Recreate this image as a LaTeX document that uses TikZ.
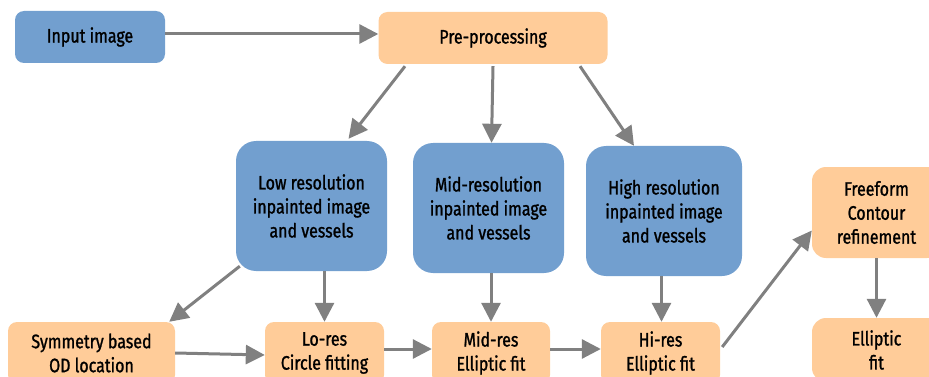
\documentclass[tikz,border=0pt]{standalone}
\usepackage{fontspec}
\setmainfont{Fira Sans}[FakeStretch=0.82,FakeBold=1.2]
\usetikzlibrary{arrows.meta,calc}
\definecolor{boxblue}{HTML}{729FCF}
\definecolor{boxorange}{HTML}{FFCC99}
\definecolor{arrgray}{HTML}{808080}
\begin{document}
\begin{tikzpicture}[x=1pt,y=-1pt,
  base/.style={rounded corners=9pt,inner sep=0pt,align=center,
    font=\fontsize{19.5}{24}\selectfont},
  bluebox/.style={base,fill=boxblue},
  orangebox/.style={base,fill=boxorange},
  bigblue/.style={bluebox,rounded corners=20pt,minimum width=151pt,minimum height=130pt},
  arr/.style={draw=arrgray,line width=3pt,-{Triangle[length=19pt,width=19pt]}}]
\useasboundingbox (0,0) rectangle (929,377);
\begin{scope}
\clip (0,0) rectangle (929,377);
\node[bluebox,minimum width=150pt,minimum height=52pt] (input) at (90,37) {Input image};
\node[orangebox,minimum width=229pt,minimum height=52pt] (pre) at (493,38) {Pre-processing};
\node[bigblue] (low) at (311.5,206) {Low resolution\\inpainted image\\and vessels};
\node[bigblue] (mid) at (488.5,208) {Mid-resolution\\inpainted image\\and vessels};
\node[bigblue,minimum width=156pt] (high) at (664,211) {High resolution\\inpainted image\\and vessels};
\node[orangebox,rounded corners=14pt,minimum width=129pt,minimum height=91pt] (free) at (876.5,212.5) {Freeform\\Contour\\refinement};
\node[orangebox,minimum width=167pt,minimum height=62pt] (sym) at (91.5,353) {Symmetry based\\OD location};
\node[orangebox,minimum width=119pt,minimum height=62pt] (lores) at (324.5,353) {Lo-res\\Circle fitting};
\node[orangebox,minimum width=118pt,minimum height=62pt] (midres) at (491,353) {Mid-res\\Elliptic fit};
\node[orangebox,minimum width=119pt,minimum height=62pt] (hires) at (660.5,353) {Hi-res\\Elliptic fit};
\node[orangebox,rounded corners=14pt,minimum width=129pt,minimum height=64pt] (ell) at (876.5,350) {Elliptic\\fit};
\end{scope}
\draw[arr] ($(input.east)+(0,-3)$) -- ($(pre.west)+(0,-4)$);
\draw[arr] ($(pre.south)+(-88,2)$) -- ($(low.north)+(37,-2)$);
\draw[arr] ($(pre.south)+(0,2)$) -- ($(mid.north)+(3,0)$);
\draw[arr] ($(pre.south)+(87,2)$) -- ($(high.north)+(-30,0)$);
\draw[arr] ($(low.south west)+(4,-5)$) -- ($(sym.north east)+(-6,0)$);
\draw[arr] (lores.north |- low.south) -- (lores.north);
\draw[arr] (midres.north |- mid.south) -- (midres.north);
\draw[arr] ($(hires.north |- high.south)+(1,0)$) -- ($(hires.north)+(1,0)$);
\draw[arr] (sym.east) -- ($(lores.west)+(0,2)$);
\draw[arr] ($(lores.east)+(0,-4)$) -- ($(midres.west)+(0,-4)$);
\draw[arr] ($(midres.east)+(0,-4)$) -- ($(hires.west)+(0,-4)$);
\draw[arr] ($(hires.east)+(2,-6)$) -- ($(free.west)+(0,18)$);
\draw[arr] (free.south) -- (ell.north);
\end{tikzpicture}
\end{document}
